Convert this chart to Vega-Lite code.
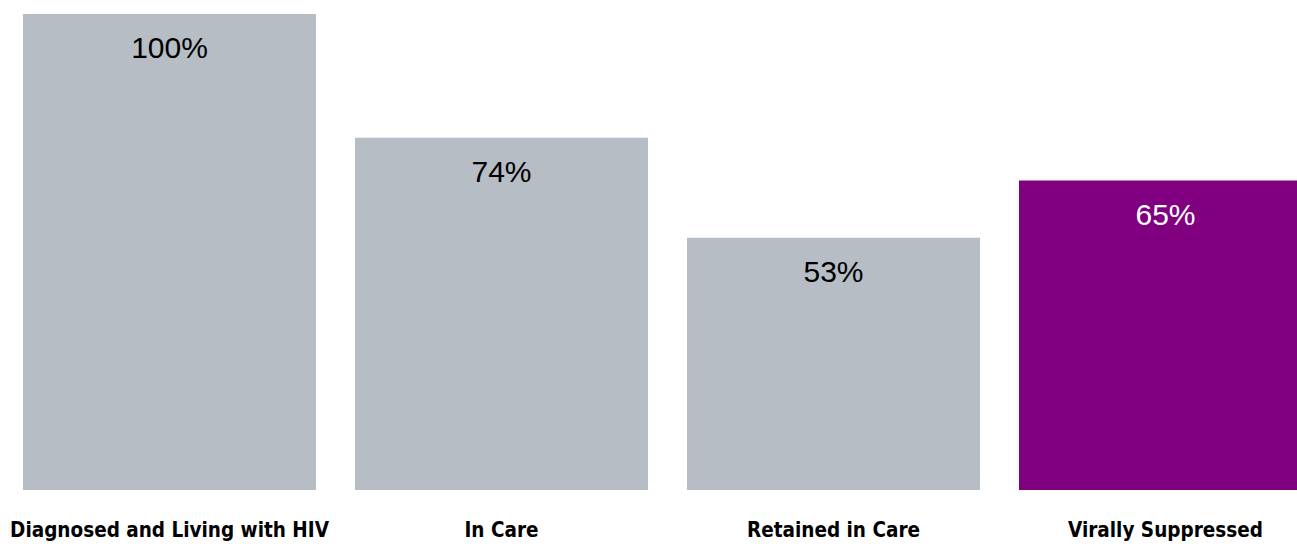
{
  "$schema": "https://vega.github.io/schema/vega-lite/v6.json",
  "autosize": {"type": "none"},
  "padding": {"left": 0, "top": 14, "right": 0, "bottom": 54},
  "width": 1335,
  "height": 476,
  "background": "white",
  "config": {"view": {"stroke": null}},
  "data": {"values": [
    {"stage": "Diagnosed and Living with HIV", "pct": 100, "label": "100%", "hl": "no"},
    {"stage": "In Care", "pct": 74, "label": "74%", "hl": "no"},
    {"stage": "Retained in Care", "pct": 53, "label": "53%", "hl": "no"},
    {"stage": "Virally Suppressed", "pct": 65, "label": "65%", "hl": "yes"}
  ]},
  "encoding": {
    "x": {"field": "stage", "type": "nominal", "sort": null,
      "scale": {"paddingInner": 0.1175, "paddingOuter": 0.0693},
      "axis": {"title": null, "domain": false, "ticks": false, "labelAngle": 0,
        "labelFont": "DejaVu Sans Condensed, Liberation Sans Narrow, Liberation Sans", "labelFontWeight": "bold", "labelFontSize": 20.5,
        "labelColor": "#000000", "labelPadding": 30, "labelBaseline": "top", "labelLimit": 0}},
    "y": {"field": "pct", "type": "quantitative", "scale": {"domain": [0, 100]}, "axis": null}
  },
  "layer": [
    {"mark": {"type": "bar"},
      "encoding": {"color": {"field": "hl", "type": "nominal",
        "scale": {"domain": ["no", "yes"], "range": ["#B6BDC5", "#800080"]}, "legend": null}}},
    {"mark": {"type": "text", "baseline": "alphabetic", "dy": 44, "font": "Liberation Sans", "fontSize": 30},
      "encoding": {"text": {"field": "label"},
        "color": {"field": "hl", "type": "nominal",
          "scale": {"domain": ["no", "yes"], "range": ["#000000", "#FFFFFF"]}, "legend": null}}}
  ],
  "resolve": {"scale": {"color": "independent"}}
}
